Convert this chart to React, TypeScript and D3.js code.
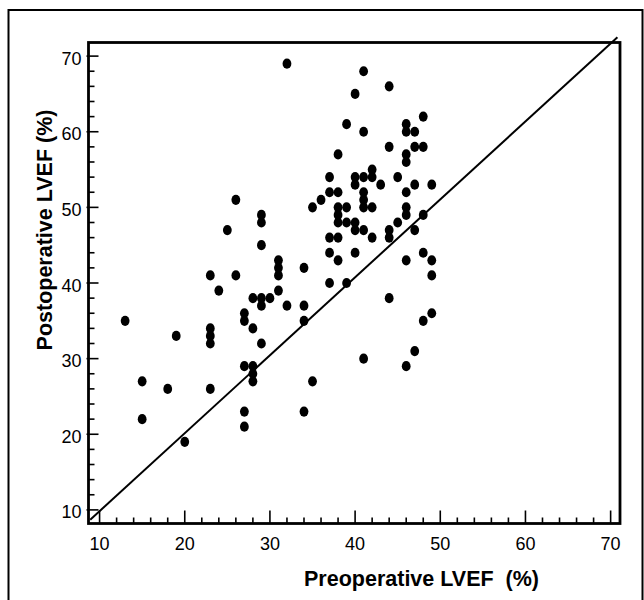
import React, { useEffect, useRef } from "react";
import * as d3 from "d3";

// preoperative LVEF (%) of each patient
const preop = [
  13, 15, 15, 18, 19, 20,
  23, 23, 23, 23, 23, 24, 25, 26, 26,
  27, 27, 27, 27, 27, 28, 28, 28, 28, 28,
  29, 29, 29, 29, 29, 29, 30, 31, 31, 31, 31, 32, 32,
  34, 34, 34, 34, 35, 35, 36,
  37, 37, 37, 37, 37, 38, 38, 38, 38, 38, 38, 38,
  39, 39, 39, 39, 40, 40, 40, 40, 40, 40,
  41, 41, 41, 41, 41, 41, 41, 41, 42, 42, 42, 42, 43,
  44, 44, 44, 44, 44, 45, 45,
  46, 46, 46, 46, 46, 46, 46, 46, 46,
  47, 47, 47, 47, 47, 48, 48, 48, 48, 48, 49, 49, 49, 49,
];

// postoperative LVEF (%) for the same patients
const postop = [
  35, 27, 22, 26, 33, 19,
  41, 34, 33, 32, 26, 39, 47, 51, 41,
  36, 35, 29, 23, 21, 38, 34, 29, 28, 27,
  49, 48, 45, 38, 37, 32, 38, 43, 42, 41, 39, 69, 37,
  42, 37, 35, 23, 50, 27, 51,
  54, 52, 46, 44, 40, 57, 52, 50, 49, 48, 46, 43,
  61, 50, 48, 40, 65, 54, 53, 48, 47, 44,
  68, 60, 54, 52, 51, 50, 47, 30, 55, 54, 50, 46, 53,
  66, 58, 47, 46, 38, 54, 48,
  61, 60, 57, 56, 52, 50, 49, 43, 29,
  60, 58, 53, 47, 31, 62, 58, 49, 44, 35, 53, 43, 41, 36,
];

const tickLabels = [10, 20, 30, 40, 50, 60, 70];
const minorTicks = d3.range(10, 71, 2);
// line of identity, as drawn in the figure
const identity = [
  [8.9, 8.7],
  [70.8, 72.5],
];

const W = 644;
const H = 600;
const left = 88.5;
const right = 620;
const top = 42.5;
const bottom = 523.5;
const font = "'Liberation Sans', Arial, sans-serif";

const App = () => {
  const ref = useRef<SVGSVGElement>(null);

  useEffect(() => {
    const svg = d3.select(ref.current);
    svg.selectAll("*").remove();

    const x = d3.scaleLinear().domain([8.7, 71.1]).range([left, right]);
    const y = d3.scaleLinear().domain([8.2, 71.8]).range([bottom, top]);

    // outer frame
    svg
      .append("rect")
      .attr("x", 8.5)
      .attr("y", 10)
      .attr("width", 634)
      .attr("height", 620)
      .attr("fill", "none")
      .attr("stroke", "#000")
      .attr("stroke-width", 2);

    const g = svg.append("g");

    // ticks on x axis, pointing in
    g.append("g")
      .selectAll("line")
      .data(minorTicks)
      .join("line")
      .attr("x1", d => x(d))
      .attr("x2", d => x(d))
      .attr("y1", bottom)
      .attr("y2", d => bottom - (d % 10 === 0 ? 13 : 6))
      .attr("stroke", "#000")
      .attr("stroke-width", 1.6);

    // ticks on y axis
    g.append("g")
      .selectAll("line")
      .data(minorTicks)
      .join("line")
      .attr("y1", d => y(d))
      .attr("y2", d => y(d))
      .attr("x1", d => left - (d % 10 === 0 ? 2 : 0))
      .attr("x2", d => left + (d % 10 === 0 ? 10 : 6))
      .attr("stroke", "#000")
      .attr("stroke-width", 1.6);

    g.append("g")
      .selectAll("text")
      .data(tickLabels)
      .join("text")
      .attr("x", d => x(d))
      .attr("y", 550)
      .attr("text-anchor", "middle")
      .attr("font-family", font)
      .attr("font-size", 18)
      .text(d => d);

    g.append("g")
      .selectAll("text")
      .data(tickLabels)
      .join("text")
      .attr("x", 81.5)
      .attr("y", d => y(d) + 8.5)
      .attr("text-anchor", "end")
      .attr("font-family", font)
      .attr("font-size", 18)
      .text(d => d);

    // plot box
    g.append("rect")
      .attr("x", left)
      .attr("y", top)
      .attr("width", right - left)
      .attr("height", bottom - top)
      .attr("fill", "none")
      .attr("stroke", "#000")
      .attr("stroke-width", 2.8);

    g.append("path")
      .attr(
        "d",
        d3
          .line<number[]>()
          .x(d => x(d[0]))
          .y(d => y(d[1]))(identity)
      )
      .attr("fill", "none")
      .attr("stroke", "#000")
      .attr("stroke-width", 2);

    g.append("g")
      .selectAll("ellipse")
      .data(preop.map((p, i) => [p, postop[i]]))
      .join("ellipse")
      .attr("cx", d => x(d[0]))
      .attr("cy", d => y(d[1]))
      .attr("rx", 4.4)
      .attr("ry", 5.1)
      .attr("fill", "#000");

    svg
      .append("text")
      .attr("x", 421.5)
      .attr("y", 586)
      .attr("text-anchor", "middle")
      .attr("font-family", font)
      .attr("font-weight", "bold")
      .attr("font-size", 21.5)
      .attr("xml:space", "preserve")
      .style("white-space", "pre")
      .text("Preoperative LVEF  (%)");

    svg
      .append("text")
      .attr("transform", "translate(52,230) rotate(-90)")
      .attr("text-anchor", "middle")
      .attr("font-family", font)
      .attr("font-weight", "bold")
      .attr("font-size", 21.5)
      .text("Postoperative LVEF (%)");
  }, []);

  return (
    <svg
      ref={ref}
      width={W}
      height={H}
      style={{ position: "absolute", left: 0, top: 0, background: "#fff" }}
    />
  );
};

export default App;
